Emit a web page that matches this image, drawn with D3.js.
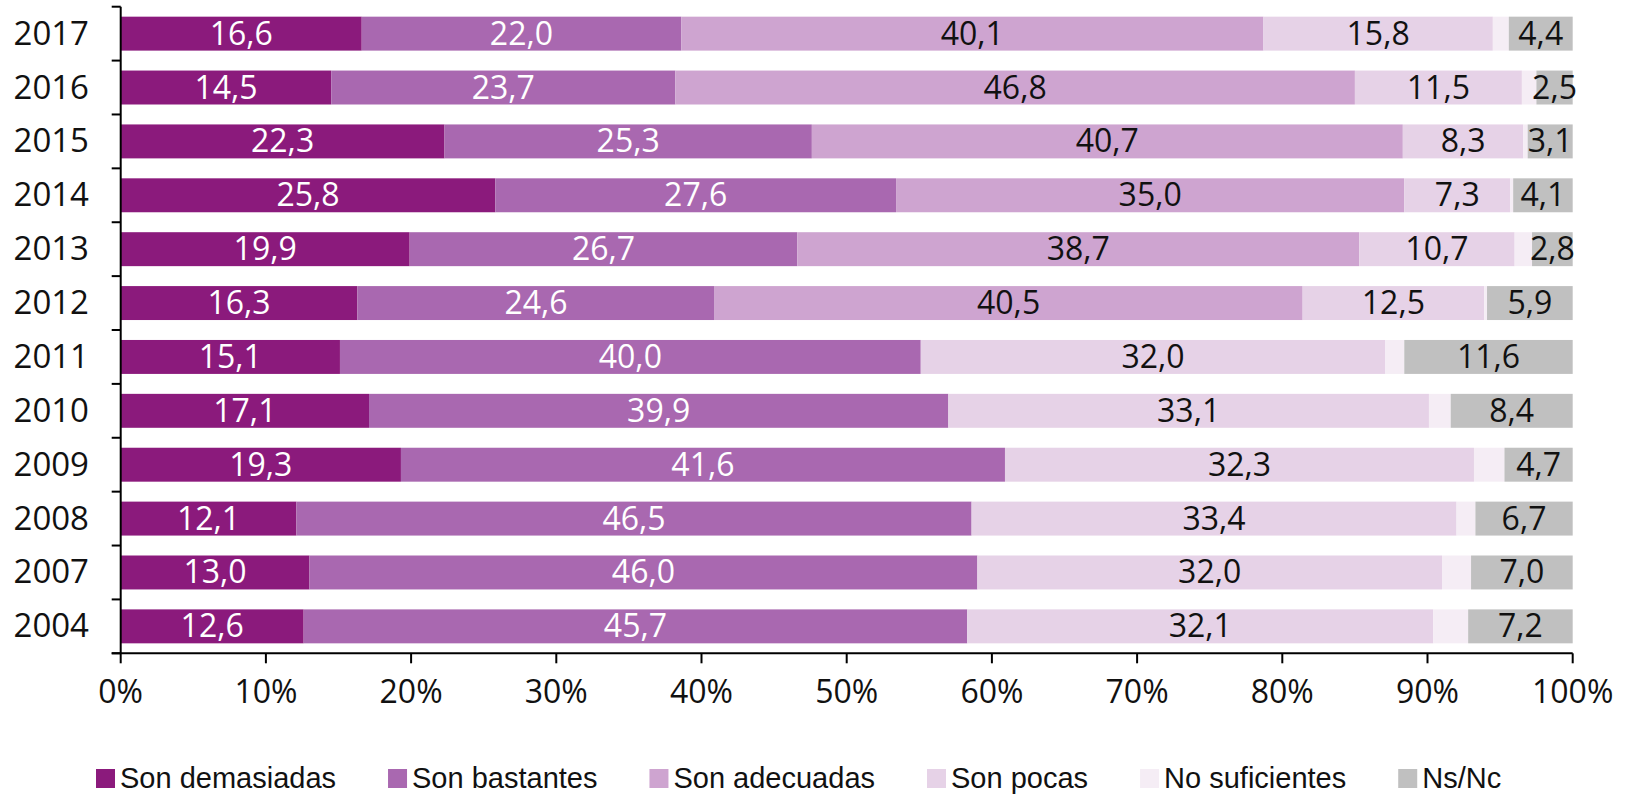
<!DOCTYPE html>
<html>
<head>
<meta charset="utf-8">
<script src="https://cdn.jsdelivr.net/npm/d3@7"></script>
<style>
  html, body { margin: 0; padding: 0; background: #fff; }
  svg { display: block; }
</style>
</head>
<body>
<svg id="chart" width="1626" height="797"></svg>
<script>
// ---- Data ----
const years = ["2017","2016","2015","2014","2013","2012","2011","2010","2009","2008","2007","2004"];
const seriesNames = ["Son demasiadas","Son bastantes","Son adecuadas","Son pocas","No suficientes","Ns/Nc"];
const seriesColors = ["#8b1a7c","#a968b0","#cea4d0","#e6d2e7","#f5edf5","#c0c0c0"];
const labelColors = ["#ffffff","#ffffff","#111111","#111111",null,"#111111"];

const demasiadas = [16.6,14.5,22.3,25.8,19.9,16.3,15.1,17.1,19.3,12.1,13.0,12.6];
const bastantes  = [22.0,23.7,25.3,27.6,26.7,24.6,40.0,39.9,41.6,46.5,46.0,45.7];
const adecuadas  = [40.1,46.8,40.7,35.0,38.7,40.5,0,0,0,0,0,0];
const pocas      = [15.8,11.5,8.3,7.3,10.7,12.5,32.0,33.1,32.3,33.4,32.0,32.1];
const noSuf      = [1.1,1.0,0.3,0.2,1.2,0.2,1.3,1.5,2.1,1.3,2.0,2.4];
const nsnc       = [4.4,2.5,3.1,4.1,2.8,5.9,11.6,8.4,4.7,6.7,7.0,7.2];
const xTicks = [0,10,20,30,40,50,60,70,80,90,100];

const seriesValues = [demasiadas, bastantes, adecuadas, pocas, noSuf, nsnc];

(function () {
  const svg = d3.select("#chart");
  const mLeft = 120.7, mRight = 1572.7, mTop = 6.7, mBottom = 653.3;
  const FONT = "'Open Sans', 'Liberation Sans', sans-serif";

  const x = d3.scaleLinear().domain([0,100]).range([mLeft, mRight]);
  const y = d3.scaleBand().domain(years).range([mTop, mBottom]).paddingInner(0.37).paddingOuter(0.185);

  const table = years.map((yr, i) => {
    const row = { year: yr };
    seriesNames.forEach((s, k) => row[s] = seriesValues[k][i]);
    return row;
  });
  const stacked = d3.stack().keys(seriesNames)(table);
  const fmt = v => d3.format(".1f")(v).replace(".", ",");

  // bars
  const layers = svg.append("g").selectAll("g").data(stacked).join("g")
    .attr("fill", (d, k) => seriesColors[k]);
  layers.selectAll("rect").data(d => d).join("rect")
    .attr("x", d => x(d[0]))
    .attr("width", d => Math.max(0, x(d[1]) - x(d[0])))
    .attr("y", d => y(d.data.year))
    .attr("height", y.bandwidth());

  // labels
  stacked.forEach((layer, k) => {
    if (!labelColors[k]) return;
    svg.append("g").selectAll("text").data(layer.filter(d => d[1] - d[0] > 0)).join("text")
      .attr("x", d => (x(d[0]) + x(d[1])) / 2)
      .attr("y", d => y(d.data.year) + y.bandwidth() / 2 + 11)
      .attr("text-anchor", "middle")
      .attr("font-family", FONT)
      .attr("font-size", 32)
      .attr("fill", labelColors[k])
      .text(d => fmt(d[1] - d[0]));
  });

  // y axis
  const axisColor = "#000";
  svg.append("line").attr("x1", mLeft).attr("x2", mLeft).attr("y1", mTop).attr("y2", mBottom)
    .attr("stroke", axisColor).attr("stroke-width", 2);
  const step = y.step();
  const boundaries = years.map(yr => y(yr) - (step * y.paddingInner()) / 2);
  boundaries.push(mBottom);
  svg.append("g").selectAll("line").data(boundaries).join("line")
    .attr("x1", mLeft - 9).attr("x2", mLeft).attr("y1", d => d).attr("y2", d => d)
    .attr("stroke", axisColor).attr("stroke-width", 2);
  svg.append("g").selectAll("text").data(years).join("text")
    .attr("x", 89)
    .attr("y", d => y(d) + y.bandwidth() / 2 + 11)
    .attr("text-anchor", "end")
    .attr("font-family", FONT)
    .attr("font-size", 33)
    .attr("fill", "#111")
    .text(d => d);

  // x axis
  svg.append("line").attr("x1", mLeft - 9).attr("x2", mRight).attr("y1", mBottom).attr("y2", mBottom)
    .attr("stroke", axisColor).attr("stroke-width", 2);
  svg.append("g").selectAll("line").data(xTicks).join("line")
    .attr("x1", d => x(d)).attr("x2", d => x(d)).attr("y1", mBottom).attr("y2", mBottom + 10)
    .attr("stroke", axisColor).attr("stroke-width", 2);
  svg.append("g").selectAll("text").data(xTicks).join("text")
    .attr("x", d => x(d))
    .attr("y", 703)
    .attr("text-anchor", "middle")
    .attr("font-family", FONT)
    .attr("font-size", 32)
    .attr("fill", "#111")
    .text(d => d + "%");

  // legend
  const legend = svg.append("g");
  let lx = 96;
  seriesNames.forEach((name, k) => {
    legend.append("rect").attr("x", lx).attr("y", 769).attr("width", 19).attr("height", 19)
      .attr("fill", seriesColors[k]);
    const t = legend.append("text").attr("x", lx + 24).attr("y", 788)
      .attr("font-family", "'Liberation Sans', Arial, sans-serif")
      .attr("font-size", 29)
      .attr("fill", "#111")
      .text(name);
    lx += 24 + t.node().getComputedTextLength() + 52;
  });
})();
</script>
</body>
</html>
